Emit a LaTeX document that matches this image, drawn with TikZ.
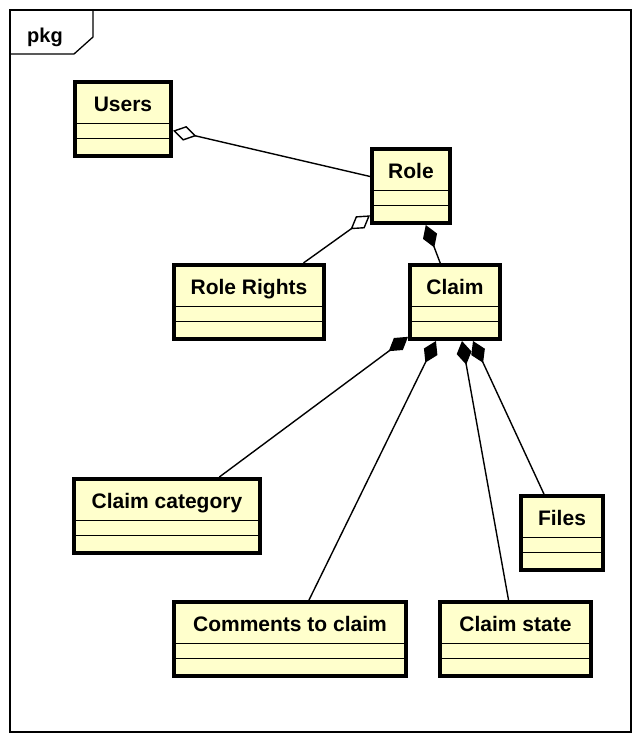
\documentclass[tikz,border=0pt]{standalone}
\usepackage{fontspec}
\setmainfont{Liberation Sans}
\usetikzlibrary{arrows.meta}
\definecolor{clsfill}{RGB}{255,255,204}
\newcommand\umlcls[5]{% name, cx, top, path width, text
  \node[cls, minimum width=#4pt] (#1) at (#2,#3+39) {};
  \node[lbl, anchor=base] (#1-name) at (#2,#3+31.5) {#5};
  \draw[sep] ([yshift=-43.5pt]#1.north west) -- ([yshift=-43.5pt]#1.north east);
  \draw[sep] ([yshift=-58.5pt]#1.north west) -- ([yshift=-58.5pt]#1.north east);
}
\begin{document}
\begin{tikzpicture}[x=1pt,y=-1pt,
  cls/.style={draw, line width=4pt, fill=clsfill, minimum height=74pt, inner sep=0pt},
  lbl/.style={font=\fontsize{21}{25}\selectfont\bfseries, inner sep=0pt},
  sep/.style={line width=1.3pt, shorten <=2pt, shorten >=2pt},
  agg/.style={line width=1.4pt, -{Diamond[fill=white, length=24pt, width=15pt]}},
  comp/.style={line width=1.4pt, -{Diamond[fill=black, length=24pt, width=15pt]}}]
\useasboundingbox (0,0) rectangle (642,753);
% frame
\draw[line width=2pt] (10,10) rectangle (631,732);
\draw[line width=1.3pt] (10,54) -- (74,54) -- (93,37) -- (93,10);
\node[lbl, font=\fontsize{20}{24}\selectfont\bfseries, anchor=base west] (pkg) at (27,42) {pkg};
% classes
\umlcls{users}{123}{80}{96}{Users}
\umlcls{role}{411}{147}{78}{Role}
\umlcls{rights}{249}{263}{150}{Role Rights}
\umlcls{claim}{455}{263}{90}{Claim}
\umlcls{category}{167}{477}{186}{Claim category}
\umlcls{files}{562}{494}{82}{Files}
\umlcls{comments}{290}{600}{232}{Comments to claim}
\umlcls{state}{515.5}{600}{151}{Claim state}
% connectors
\draw[agg] (role) -- (users);
\draw[agg] (rights) -- (role);
\draw[comp] (claim) -- (role);
\draw[comp] (category) -- (claim);
\draw[comp] (comments) -- (claim);
\draw[comp] (state) -- (claim);
\draw[comp] (files) -- (claim);
\end{tikzpicture}
\end{document}
